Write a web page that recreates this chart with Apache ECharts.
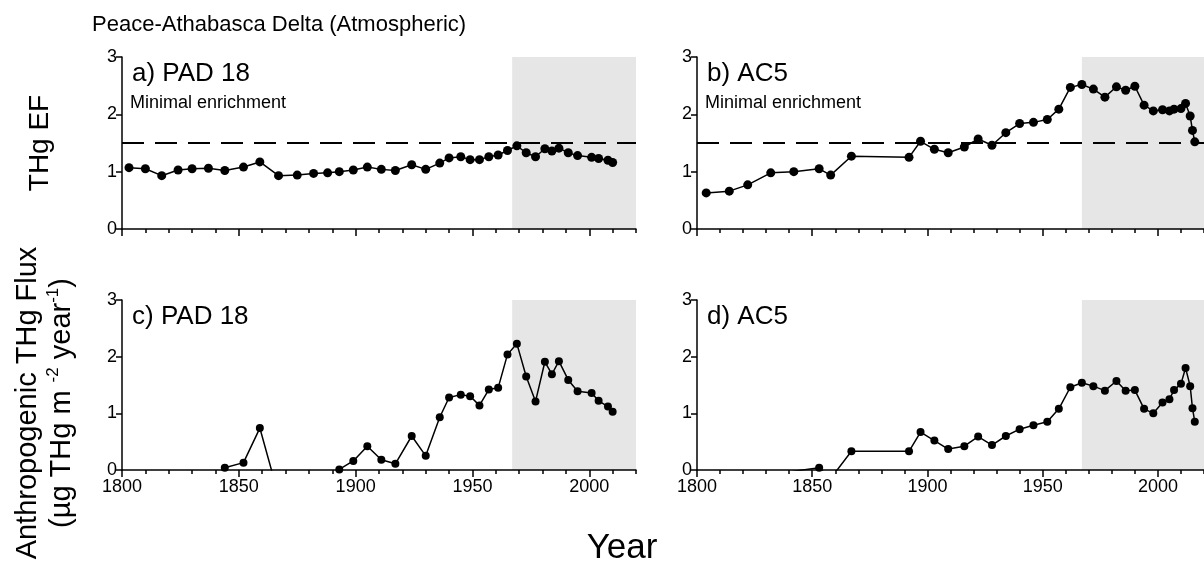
<!DOCTYPE html>
<html>
<head>
<meta charset="utf-8">
<script src="https://cdn.jsdelivr.net/npm/echarts@6/dist/echarts.min.js"></script>
<style>
html,body{margin:0;padding:0;background:#fff;}
#chart{width:1204px;height:573px;}
</style>
</head>
<body>
<div id="chart"></div>
<script>
// ---- data ----
const yearsPAD = [1803,1810,1817,1824,1830,1837,1844,1852,1859,1867,1875,1882,1888,1893,1899,1905,1911,1917,1924,1930,1936,1940,1945,1949,1953,1957,1961,1965,1969,1973,1977,1981,1984,1987,1991,1995,2001,2004,2008,2010];
const efPAD = [1.07,1.05,0.93,1.03,1.05,1.06,1.02,1.08,1.17,0.93,0.94,0.97,0.98,1.00,1.03,1.08,1.04,1.02,1.12,1.04,1.15,1.24,1.26,1.21,1.21,1.26,1.29,1.37,1.45,1.33,1.26,1.40,1.36,1.41,1.33,1.28,1.25,1.23,1.20,1.16];
const fluxPAD = [-0.6,-0.6,-0.7,-0.6,-0.5,-0.3,0.04,0.13,0.74,-0.45,-0.4,-0.3,-0.2,0.01,0.16,0.42,0.18,0.11,0.60,0.25,0.93,1.28,1.33,1.30,1.14,1.42,1.45,2.04,2.23,1.65,1.21,1.91,1.69,1.92,1.59,1.39,1.36,1.22,1.12,1.03];

const yearsAC5 = [1804,1814,1822,1832,1842,1853,1858,1867,1892,1897,1903,1909,1916,1922,1928,1934,1940,1946,1952,1957,1962,1967,1972,1977,1982,1986,1990,1994,1998,2002,2005,2007,2010,2012,2014,2015,2016];
const efAC5 = [0.63,0.66,0.77,0.98,1.00,1.05,0.94,1.27,1.25,1.53,1.39,1.33,1.43,1.57,1.46,1.68,1.84,1.86,1.91,2.09,2.47,2.52,2.44,2.30,2.48,2.42,2.49,2.16,2.06,2.08,2.06,2.09,2.10,2.19,1.97,1.72,1.52];
const fluxAC5 = [-0.3,-0.25,-0.2,-0.1,-0.02,0.04,-0.15,0.33,0.33,0.67,0.52,0.37,0.42,0.59,0.44,0.60,0.72,0.79,0.85,1.08,1.46,1.54,1.48,1.40,1.57,1.40,1.41,1.08,1.00,1.19,1.25,1.41,1.52,1.80,1.48,1.09,0.85];

const xMajorTicks = [1800,1850,1900,1950,2000];
const yTicks = [0,1,2,3];
const xMin = 1800, xMax = 2020;
const shadeStart = 1967;
const minimalEnrichment = 1.5;
const panelLabels = ['a) PAD 18','b) AC5','c) PAD 18','d) AC5'];

// ---- chart ----
const FONT = '"Liberation Sans", Arial, sans-serif';
const grids = [
  {left:122, top:57, width:514, height:172},
  {left:697, top:57, width:514, height:172},
  {left:122, top:300, width:514, height:170},
  {left:697, top:300, width:514, height:170}
];
const panels = [
  {x: yearsPAD, y: efPAD, ef: true},
  {x: yearsAC5, y: efAC5, ef: true},
  {x: yearsPAD, y: fluxPAD, ef: false},
  {x: yearsAC5, y: fluxAC5, ef: false}
];
const axisLineStyle = {color:'#000', width:1.5};

const xAxis = [], yAxis = [], series = [], graphic = [];
grids.forEach((g, i) => {
  const bottomRow = i >= 2;
  xAxis.push({
    gridIndex:i, type:'value', min:xMin, max:xMax, position:'bottom', z:10,
    axisLine:{show:true, onZero:false, lineStyle:axisLineStyle},
    axisTick:{show:true, customValues:xMajorTicks, length:7, lineStyle:axisLineStyle},
    axisLabel:{show:bottomRow, customValues:xMajorTicks, fontSize:18, color:'#000', fontFamily:FONT, margin:8,
      formatter: v => String(v)},
    splitLine:{show:false}
  });
});
grids.forEach((g, i) => {
  xAxis.push({
    gridIndex:i, type:'value', min:xMin, max:xMax, interval:10, position:'bottom', offset:0, z:10,
    axisLine:{show:false, onZero:false},
    axisTick:{show:true, length:4, lineStyle:axisLineStyle},
    axisLabel:{show:false},
    splitLine:{show:false}
  });
  yAxis.push({
    gridIndex:i, type:'value', min:0, max:3, interval:1, z:10,
    axisLine:{show:true, lineStyle:axisLineStyle},
    axisTick:{show:true, length:6, lineStyle:axisLineStyle},
    axisLabel:{fontSize:18, color:'#000', fontFamily:FONT, margin:5,
      formatter: v => yTicks.includes(v) ? String(v) : ''},
    splitLine:{show:false}
  });
  const p = panels[i];
  const bg = {
    type:'line', xAxisIndex:i, yAxisIndex:i, data:[], silent:true, z:1,
    markArea:{silent:true, itemStyle:{color:'#e6e6e6'}, data:[[{xAxis:shadeStart},{xAxis:xMax}]]}
  };
  if (p.ef) {
    bg.markLine = {silent:true, symbol:['none','none'], label:{show:false},
      lineStyle:{type:[22,11], width:2, color:'#000'}, data:[{yAxis:minimalEnrichment}]};
  }
  series.push(bg);
  series.push({
    type:'line', xAxisIndex:i, yAxisIndex:i, z:3,
    data: p.x.map((yr, k) => [yr, p.y[k]]),
    symbol:'circle', symbolSize: p.ef ? 9 : 8, showAllSymbol:true,
    itemStyle:{color:'#000'}, lineStyle:{color:'#000', width:1.5},
    clip:true, silent:true
  });
  graphic.push({type:'text', x:g.left+10, y:g.top+17, z:20,
    style:{text:panelLabels[i], fontSize:26, fontFamily:FONT, fill:'#000', textVerticalAlign:'middle'}});
  if (p.ef) {
    graphic.push({type:'text', x:g.left+8, y:g.top+46, z:20,
      style:{text:'Minimal enrichment', fontSize:18, fontFamily:FONT, fill:'#000', textVerticalAlign:'middle'}});
  }
});

graphic.push({type:'text', x:92, y:25, style:{text:'Peace-Athabasca Delta (Atmospheric)', fontSize:22, fontFamily:FONT, fill:'#000', textVerticalAlign:'middle'}});
graphic.push({type:'text', x:40, y:143, rotation:Math.PI/2,
  style:{text:'THg EF', fontSize:28, fontFamily:FONT, fill:'#000', textAlign:'center', textVerticalAlign:'middle'}});
graphic.push({type:'text', x:45, y:403, rotation:Math.PI/2,
  style:{
    text:'{m|Anthropogenic THg Flux}\n{m|(µg THg m }{s|-2}{m| year}{s|-1}{m|)}',
    textAlign:'center', textVerticalAlign:'middle', fill:'#000',
    rich:{
      m:{fontSize:29, lineHeight:34, fontFamily:FONT, fill:'#000'},
      s:{fontSize:17, fontFamily:FONT, fill:'#000', verticalAlign:'top'}
    }
  }});
graphic.push({type:'text', x:622, y:548,
  style:{text:'Year', fontSize:35, fontFamily:FONT, fill:'#000', textAlign:'center', textVerticalAlign:'middle'}});

const chart = echarts.init(document.getElementById('chart'), null, {renderer:'canvas'});
chart.setOption({
  animation:false,
  backgroundColor:'#fff',
  grid: grids.map(g => Object.assign({containLabel:false}, g)),
  xAxis, yAxis, series, graphic
});
</script>
</body>
</html>
